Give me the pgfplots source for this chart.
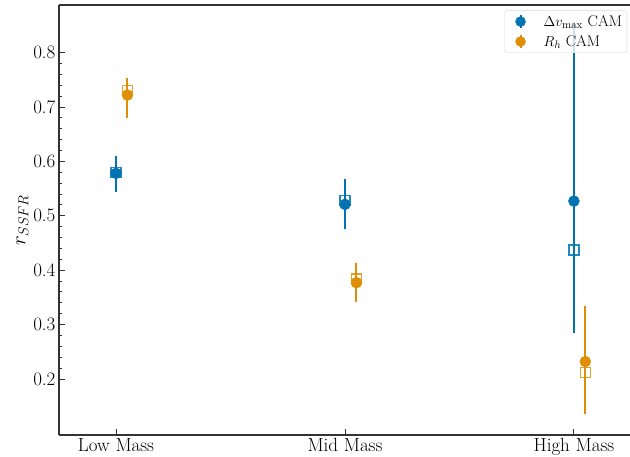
\documentclass[border=0pt]{standalone}
\usepackage{pgfplots}
\pgfplotsset{compat=1.18}
\usepackage{pgfplotstable}

\definecolor{cblue}{RGB}{1,115,178}
\definecolor{corange}{RGB}{222,143,5}

\pgfplotstableread{
x     y
0.00  0.578
1.00  0.521
2.00  0.527
}\dvmaxcirc
\pgfplotstableread{
x     y
0.05  0.722
1.05  0.377
2.05  0.232
}\rhcirc
\pgfplotstableread{
x     y
0.00  0.579
1.00  0.528
2.00  0.437
}\dvmaxsq
\pgfplotstableread{
x     y
0.05  0.730
1.05  0.384
2.05  0.212
}\rhsq

% legend symbol: filled dot with a short vertical error bar
\newcommand\errdot[1]{%
  \path[draw=none] (0,0) (34pt,0);
  \draw[#1, line width=2pt, draw opacity=1] (13pt,-0.22cm) -- (13pt,0.22cm);
  \fill[#1, fill opacity=1] (13pt,0cm) circle (5pt);}

\begin{document}
\begin{tikzpicture}
\begin{axis}[
  name=ax,
  scale only axis,
  width=571pt, height=430pt,
  xmin=-0.249, xmax=2.245,
  ymin=0.097, ymax=0.8875,
  axis x line=box, axis y line=left,
  axis line style={-, line width=1.4pt, color=black!80},
  xtick pos=bottom, ytick pos=left,
  tick align=inside,
  major tick length=6pt, minor tick length=3.5pt,
  every tick/.style={black!80, line width=0.9pt},
  xtick={0,1,2},
  xticklabels={Low Mass, Mid Mass, High Mass},
  ytick={0.2,0.3,0.4,0.5,0.6,0.7,0.8},
  minor y tick num=4,
  yticklabel style={/pgf/number format/fixed, /pgf/number format/precision=1,
    /pgf/number format/assume math mode=true},
  tick label style={font=\fontsize{19}{22}\selectfont},
  ylabel={$r_{SSFR}$},
  ylabel style={font=\fontsize{20}{24}\selectfont, yshift=-2pt},
  legend style={at={(0.995,0.988)}, anchor=north east,
    font=\fontsize{15.5}{18.5}\selectfont,
    rounded corners=3pt, draw=black!15, fill=white,
    fill opacity=0.8, text opacity=1, draw opacity=1,
    row sep=3.5pt, inner xsep=3pt, inner ysep=3pt},
  legend cell align=left,
]
% error bars (lower to upper bound at each mass bin)
\addplot[draw=cblue, line width=2pt, forget plot] coordinates {(0,0.543) (0,0.609)};
\addplot[draw=cblue, line width=2pt, forget plot] coordinates {(1,0.476) (1,0.567)};
\addplot[draw=cblue, line width=2pt, forget plot] coordinates {(2,0.285) (2,0.856)};
\addplot[draw=corange, line width=2pt, forget plot] coordinates {(0.05,0.679) (0.05,0.754)};
\addplot[draw=corange, line width=2pt, forget plot] coordinates {(1.05,0.341) (1.05,0.413)};
\addplot[draw=corange, line width=2pt, forget plot] coordinates {(2.05,0.135) (2.05,0.335)};
% open squares
\addplot[only marks, mark=square, mark size=5pt, draw=cblue, draw opacity=0.85,
  mark options={line width=1.3pt}, forget plot] table[x=x, y=y] {\dvmaxsq};
\addplot[only marks, mark=square, mark size=5pt, draw=corange, draw opacity=0.85,
  mark options={line width=1.3pt}, forget plot] table[x=x, y=y] {\rhsq};
% filled circles
\addplot[only marks, mark=*, mark size=5.5pt, color=cblue,
  mark options={fill=cblue, draw=cblue},
  legend image code/.code={\errdot{cblue}},
  ] table[x=x, y=y] {\dvmaxcirc};
\addlegendentry{$\Delta v_{\max}$ CAM}
\addplot[only marks, mark=*, mark size=5.5pt, color=corange,
  mark options={fill=corange, draw=corange},
  legend image code/.code={\errdot{corange}},
  ] table[x=x, y=y] {\rhcirc};
\addlegendentry{$R_h$ CAM}
\end{axis}
\pgfresetboundingbox
\path[use as bounding box] ([xshift=-59pt,yshift=-22pt]ax.south west)
  rectangle ([yshift=5pt]ax.north east);
\end{tikzpicture}
\end{document}
